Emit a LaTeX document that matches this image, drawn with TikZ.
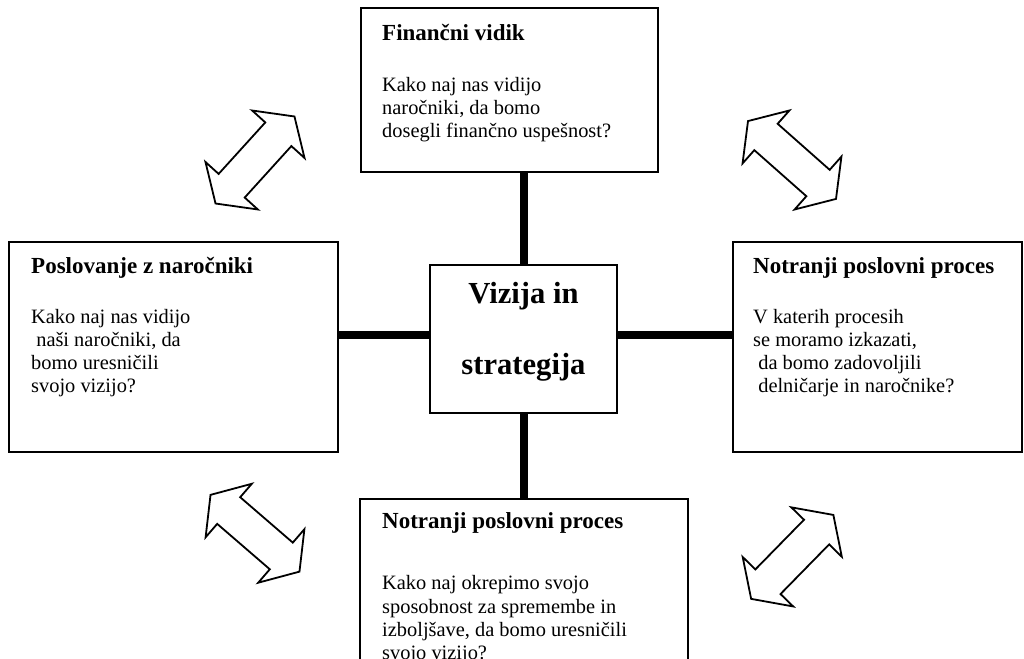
\documentclass[tikz,border=0pt]{standalone}
\usepackage{fontspec}
\setmainfont{Liberation Serif}
\begin{document}
\begin{tikzpicture}[x=1pt,y=1pt,
  box/.style={draw, line width=1.5pt, rectangle, inner sep=0pt},
  link/.style={line width=8pt},
  head/.style={font=\fontsize{23}{27}\selectfont\bfseries, anchor=base west, inner sep=0pt},
  body/.style={font=\fontsize{20.4}{23}\selectfont, anchor=base west, inner sep=0pt},
  title/.style={font=\fontsize{30.6}{36}\selectfont\bfseries, anchor=base, inner sep=0pt},
  dblarrow/.pic={\draw[line width=1.8pt, fill=white]
    (58.75,0) -- (34.75,35.35) -- (34.75,17.6) -- (-34.75,17.6) -- (-34.75,35.35)
    -- (-58.75,0) -- (-34.75,-35.35) -- (-34.75,-17.6) -- (34.75,-17.6)
    -- (34.75,-35.35) -- cycle;}
]
\useasboundingbox (0,0) rectangle (1024,658);
\fill[white] (0,0) rectangle (1024,658);
\clip (0,0) rectangle (1024,658);

% perspective boxes around the central box
\node[box, minimum width=297pt, minimum height=164pt] (fin) at (509.5,568) {};
\node[box, minimum width=329pt, minimum height=210pt] (cust) at (173.5,311) {};
\node[box, minimum width=289pt, minimum height=210pt] (proc) at (877.5,311) {};
\node[box, minimum width=328pt, minimum height=221pt] (learn) at (524,48.5) {};
\node[box, minimum width=187pt, minimum height=148pt] (core) at (523.5,319) {};

% thick links to the centre
\draw[link] (core.north) -- (core.north |- fin.south);
\draw[link] (core.south) -- (core.south |- learn.north);
\draw[link] ([yshift=4pt]core.west) -- ([yshift=4pt]core.west -| cust.east);
\draw[link] ([yshift=4pt]core.east) -- ([yshift=4pt]core.east -| proc.west);

% double-headed block arrows in the corners
\pic[rotate=47.8] at (255,498) {dblarrow};
\pic[rotate=138.5] at (792,498) {dblarrow};
\pic[rotate=139.2] at (255,124.75) {dblarrow};
\pic[rotate=45.6] at (792.25,101.1) {dblarrow};

% centre
\node[title] (core-1) at (523.5,354) {Vizija in};
\node[title] (core-2) at (523.5,283) {strategija};

% financial perspective
\node[head] (fin-h) at (382,617) {Finančni vidik};
\node[body] (fin-1) at (382,566) {Kako naj nas vidijo};
\node[body] (fin-2) at (382,543) {naročniki, da bomo};
\node[body] (fin-3) at (382,520) {dosegli finančno uspešnost?};

% customer perspective
\node[head] (cust-h) at (31,384) {Poslovanje z naročniki};
\node[body] (cust-1) at (31,334) {Kako naj nas vidijo};
\node[body] (cust-2) at (31,311) {\ naši naročniki, da};
\node[body] (cust-3) at (31,288) {bomo uresničili};
\node[body] (cust-4) at (31,265) {svojo vizijo?};

% internal process perspective
\node[head] (proc-h) at (753,384) {Notranji poslovni proces};
\node[body] (proc-1) at (753,334) {V katerih procesih};
\node[body] (proc-2) at (753,311) {se moramo izkazati,};
\node[body] (proc-3) at (753,288) {\ da bomo zadovoljili};
\node[body] (proc-4) at (753,265) {\ delničarje in naročnike?};

% learning perspective
\node[head] (learn-h) at (382,129) {Notranji poslovni proces};
\node[body] (learn-1) at (382,68) {Kako naj okrepimo svojo};
\node[body] (learn-2) at (382,45) {sposobnost za spremembe in};
\node[body] (learn-3) at (382,22) {izboljšave, da bomo uresničili};
\node[body] (learn-4) at (382,-1) {svojo vizijo?};
\end{tikzpicture}
\end{document}
